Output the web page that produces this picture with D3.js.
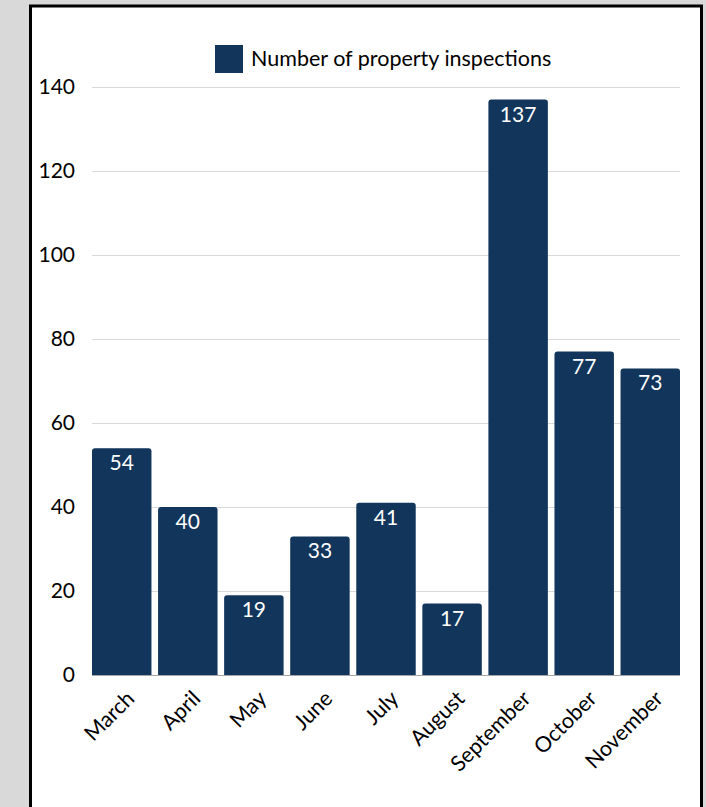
<!DOCTYPE html>
<html>
<head>
<meta charset="utf-8">
<script src="https://cdn.jsdelivr.net/npm/d3@7"></script>
<style>
  html, body { margin: 0; padding: 0; background: #d9d9d9; }
  svg { display: block; }
  text { font-family: Lato, "Open Sans", sans-serif; }
</style>
</head>
<body>
<svg id="chart" width="706" height="807"></svg>
<script>
// Monthly inspection counts
const months = ["March", "April", "May", "June", "July", "August", "September", "October", "November"];
const inspections = [54, 40, 19, 33, 41, 17, 137, 77, 73];
const yTicks = [0, 20, 40, 60, 80, 100, 120, 140];
const seriesName = "Number of property inspections";

const W = 706, H = 807;
const barColor = "#12355b";
const margin = { left: 92, right: 26, top: 87, bottom: 132 };

const svg = d3.select("#chart");

// white card with a heavy black frame
svg.append("rect")
  .attr("x", 30.5).attr("y", 6).attr("width", 671).attr("height", 810)
  .attr("fill", "#ffffff").attr("stroke", "#000").attr("stroke-width", 3);

const x = d3.scaleBand()
  .domain(months)
  .range([margin.left, W - margin.right])
  .paddingInner(0.1)
  .paddingOuter(0);

const y = d3.scaleLinear()
  .domain([0, 140])
  .range([H - margin.bottom, margin.top]);

// horizontal gridlines + tick labels
const yAxis = d3.axisLeft(y)
  .tickValues(yTicks)
  .tickSize(-(W - margin.right - margin.left))
  .tickPadding(17);

const gy = svg.append("g")
  .attr("transform", `translate(${margin.left},0)`)
  .call(yAxis);
gy.select(".domain").remove();
gy.selectAll(".tick line").attr("stroke", "#d9d9d9").attr("stroke-width", 1);
gy.selectAll(".tick text")
  .attr("font-size", 21).attr("fill", "#000")
  .attr("font-family", "Lato, sans-serif");

// bars with rounded top corners
const r = 3;
function barPath(d, i) {
  const x0 = x(months[i]), w = x.bandwidth();
  const y0 = y(d), y1 = y(0);
  return `M${x0},${y1}V${y0 + r}Q${x0},${y0} ${x0 + r},${y0}H${x0 + w - r}Q${x0 + w},${y0} ${x0 + w},${y0 + r}V${y1}Z`;
}
svg.append("g").selectAll("path")
  .data(inspections)
  .join("path")
  .attr("d", barPath)
  .attr("fill", barColor);

// value labels inside the bar tops
svg.append("g").selectAll("text")
  .data(inspections)
  .join("text")
  .attr("x", (d, i) => x(months[i]) + x.bandwidth() / 2)
  .attr("y", d => y(d) + 22)
  .attr("text-anchor", "middle")
  .attr("font-size", 21)
  .attr("fill", "#ffffff")
  .text(d => d);

// baseline
const xAxis = d3.axisBottom(x).tickSize(0).tickPadding(0);
const gx = svg.append("g")
  .attr("transform", `translate(0,${y(0)})`)
  .call(xAxis);
gx.select(".domain").attr("stroke", "#a6a6a6").attr("stroke-width", 1)
  .attr("d", `M${margin.left},0.5H${W - margin.right}`);
gx.selectAll(".tick text")
  .attr("font-size", 21.5).attr("fill", "#000")
  .attr("font-family", "Lato, sans-serif")
  .attr("text-anchor", "end")
  .attr("dy", "0.72em")
  .attr("y", 0)
  .attr("transform", "translate(3,14) rotate(-45)");

// legend
const lg = svg.append("g");
lg.append("rect")
  .attr("x", 215).attr("y", 45).attr("width", 28).attr("height", 28)
  .attr("fill", barColor);
lg.append("text")
  .attr("x", 251).attr("y", 66)
  .attr("font-size", 21.5).attr("fill", "#000")
  .text(seriesName);
</script>
</body>
</html>
